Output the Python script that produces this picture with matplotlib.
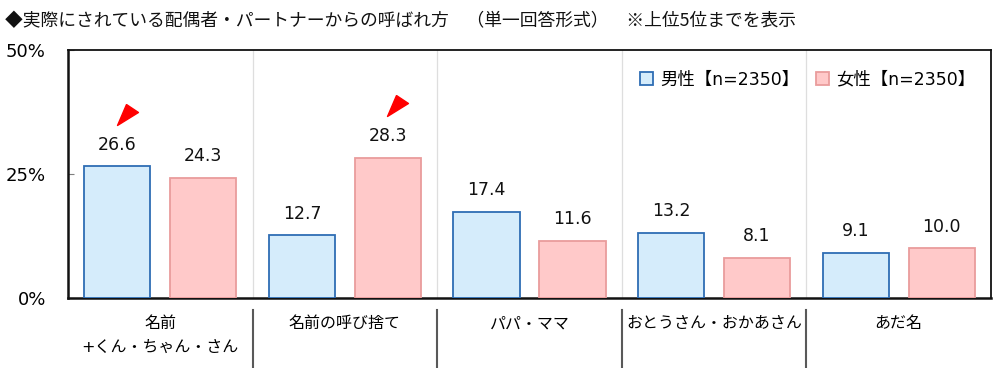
import matplotlib
matplotlib.use("Agg")
import matplotlib.pyplot as plt
import numpy as np
from matplotlib.patches import Patch

plt.rcParams['font.family'] = ['Noto Sans CJK JP', 'DejaVu Sans']
MIX = ['DejaVu Sans', 'Noto Sans CJK JP']

title = "◆実際にされている配偶者・パートナーからの呼ばれ方　（単一回答形式）　※上位5位までを表示"
categories = ["名前\n+くん・ちゃん・さん", "名前の呼び捨て", "パパ・ママ", "おとうさん・おかあさん", "あだ名"]
male = [26.6, 12.7, 17.4, 13.2, 9.1]
female = [24.3, 28.3, 11.6, 8.1, 10.0]
series_names = ["男性【n=2350】", "女性【n=2350】"]
yticks = [0, 25, 50]
ytick_labels = ["0%", "25%", "50%"]
highlights = [(0, 0), (1, 1)]  # (category index, series index)

male_fill, male_edge = "#d5ecfb", "#2e6db4"
fem_fill, fem_edge = "#ffc9c9", "#e99c9c"

fig = plt.figure(figsize=(10, 3.68), dpi=100)
ax = fig.add_axes([0.068, 0.190, 0.923, 0.674])

x = np.arange(len(categories))
w = 0.358
off = 0.233
ax.bar(x - off, male, w, color=male_fill, edgecolor=male_edge, linewidth=1.3, zorder=3)
ax.bar(x + off, female, w, color=fem_fill, edgecolor=fem_edge, linewidth=1.3, zorder=3)

for xi, v in zip(x - off, male):
    ax.annotate(f"{v:.1f}", (xi, v), xytext=(0, 9), textcoords="offset points",
                ha="center", va="bottom", fontsize=12.5, color="#111111", family=MIX)
for xi, v in zip(x + off, female):
    ax.annotate(f"{v:.1f}", (xi, v), xytext=(0, 9), textcoords="offset points",
                ha="center", va="bottom", fontsize=12.5, color="#111111", family=MIX)

tri = [(-1, 10), (11, 2), (-10, -11), (-1, 10)]
for ci, si in highlights:
    vals = male if si == 0 else female
    xpos = x[ci] + (-off if si == 0 else off) + 0.05
    ax.plot(xpos, vals[ci] + 10.6, marker=tri, markersize=15.8, color="#ff0000",
            linestyle="none", zorder=5, clip_on=False)

ax.set_xlim(-0.5, len(categories) - 0.5)
ax.set_ylim(0, 50)
ax.set_yticks(yticks)
ax.set_yticklabels(ytick_labels, fontsize=13, family=MIX)
ax.set_xticks(x)
ax.set_xticklabels(categories, fontsize=11.5, linespacing=1.75, va="top", family=MIX)
ax.tick_params(axis="x", length=0, pad=13)
ax.tick_params(axis="y", direction="in", length=4, width=0.8, color="#7f7f7f", pad=16)

for b in np.arange(0.5, len(categories) - 0.5, 1):
    ax.axvline(b, color="#dedede", linewidth=0.9, zorder=1)
    ax.plot([b, b], [-0.048, -0.285], transform=ax.get_xaxis_transform(),
            color="#595959", linewidth=1.5, clip_on=False)

for s in ["top", "right"]:
    ax.spines[s].set_linewidth(1.3)
    ax.spines[s].set_color("#111111")
for s in ["left", "bottom"]:
    ax.spines[s].set_linewidth(1.8)
    ax.spines[s].set_color("#111111")

handles = [Patch(facecolor=male_fill, edgecolor=male_edge, linewidth=1.3),
           Patch(facecolor=fem_fill, edgecolor=fem_edge, linewidth=1.3)]
leg = ax.legend(handles, series_names, loc="upper right", bbox_to_anchor=(1.0, 0.98), ncol=2,
                frameon=False, prop={'family': MIX, 'size': 12.5}, handlelength=0.75,
                handleheight=0.75, handletextpad=0.4, columnspacing=1.0)

fig.text(0.005, 0.943, title, fontsize=12.8, ha="left", va="center", color="#111111")

fig.savefig("out.png", dpi=100)
